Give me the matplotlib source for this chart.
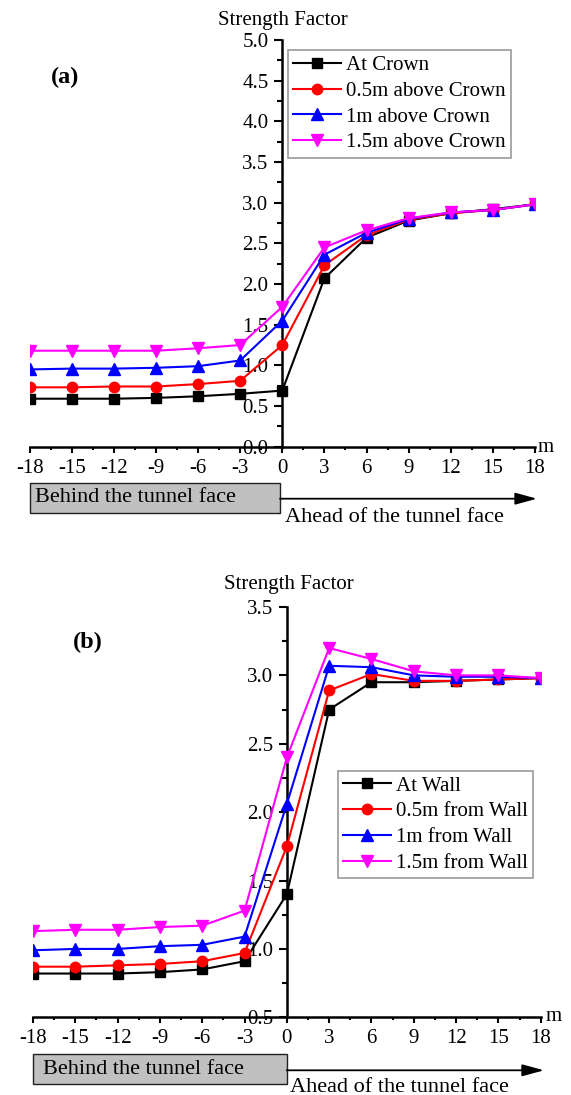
import matplotlib
matplotlib.use("Agg")
import matplotlib.pyplot as plt
from matplotlib.ticker import MultipleLocator
from matplotlib.patches import Rectangle, FancyArrowPatch

plt.rcParams['font.family'] = ['Liberation Serif', 'DejaVu Serif']

# ---------------- data ----------------
distance = [-18, -15, -12, -9, -6, -3, 0, 3, 6, 9, 12, 15, 18]
x_ticks = [-18, -15, -12, -9, -6, -3, 0, 3, 6, 9, 12, 15, 18]

crown_labels = ["At Crown", "0.5m above Crown", "1m above Crown", "1.5m above Crown"]
crown_at = [0.59, 0.59, 0.59, 0.60, 0.62, 0.65, 0.69, 2.07, 2.57, 2.78, 2.87, 2.92, 2.98]
crown_05 = [0.73, 0.73, 0.74, 0.74, 0.77, 0.81, 1.25, 2.23, 2.60, 2.79, 2.87, 2.91, 2.98]
crown_10 = [0.95, 0.96, 0.96, 0.97, 0.99, 1.06, 1.55, 2.36, 2.63, 2.80, 2.88, 2.91, 2.98]
crown_15 = [1.18, 1.18, 1.18, 1.18, 1.21, 1.25, 1.72, 2.45, 2.66, 2.81, 2.88, 2.91, 2.98]

wall_labels = ["At Wall", "0.5m from Wall", "1m from Wall", "1.5m from Wall"]
wall_at = [0.82, 0.82, 0.82, 0.83, 0.85, 0.91, 1.40, 2.75, 2.95, 2.95, 2.96, 2.97, 2.98]
wall_05 = [0.87, 0.87, 0.88, 0.89, 0.91, 0.97, 1.75, 2.89, 3.01, 2.96, 2.96, 2.97, 2.98]
wall_10 = [0.99, 1.00, 1.00, 1.02, 1.03, 1.09, 2.06, 3.07, 3.06, 3.00, 2.99, 2.99, 2.98]
wall_15 = [1.13, 1.14, 1.14, 1.16, 1.17, 1.28, 2.40, 3.20, 3.12, 3.03, 3.00, 3.00, 2.98]

colors = ["black", "#ff0000", "#0000ff", "#ff00ff"]
markers = ["s", "o", "^", "v"]
msizes = [6.5, 7.5, 8, 8]

W, H = 571, 1095
fig = plt.figure(figsize=(W / 100, H / 100), dpi=100)


def X(px):
    return px / W


def Y(py):
    return 1 - py / H


FS = 15


def make_panel(left, right, top, bottom, ylim, ymaj, series, labels, leg_loc):
    ax = fig.add_axes([X(left), Y(bottom), X(right) - X(left), Y(top) - Y(bottom)])
    ax.set_axisbelow(True)
    for vals, lab, c, m, ms in zip(series, labels, colors, markers, msizes):
        ax.plot(distance, vals, color=c, marker=m, markersize=ms, lw=1.5,
                label=lab, zorder=3)
    ax.set_xlim(-18, 18)
    ax.set_ylim(*ylim)
    ax.set_xticks(x_ticks)
    ax.set_xticklabels([str(t) for t in x_ticks])
    ax.xaxis.set_minor_locator(MultipleLocator(1.5))
    ax.yaxis.set_major_locator(MultipleLocator(ymaj))
    ax.yaxis.set_minor_locator(MultipleLocator(ymaj / 2))
    ax.yaxis.set_major_formatter(matplotlib.ticker.FormatStrFormatter('%.1f'))
    ax.spines['top'].set_visible(False)
    ax.spines['right'].set_visible(False)
    ax.spines['left'].set_position(('data', 0))
    for s in ('left', 'bottom'):
        ax.spines[s].set_linewidth(1.8)
    ax.tick_params(axis='both', which='major', labelsize=FS, width=1.5)
    ax.tick_params(axis='y', which='major', length=6, pad=4, direction='out')
    ax.tick_params(axis='y', which='minor', length=3.5, width=1.5, direction='out')
    ax.tick_params(axis='x', which='major', length=4.5, pad=4, direction='out')
    ax.tick_params(axis='x', which='minor', length=2.5, width=1.5, direction='out')
    ax.patch.set_alpha(0)
    leg = ax.legend(loc='upper left', bbox_to_anchor=leg_loc, fontsize=FS,
                    frameon=True, fancybox=False, edgecolor='#808080',
                    handlelength=2.3, handletextpad=0.25, labelspacing=0.3,
                    borderpad=0.25, borderaxespad=0)
    leg.get_frame().set_linewidth(1.2)
    return ax


ax1 = make_panel(29.6, 535, 40, 446.7, (0, 5.0), 0.5,
                 [crown_at, crown_05, crown_10, crown_15], crown_labels, (0.511, 0.975))
ax2 = make_panel(33, 540.7, 607, 1017.3, (0.5, 3.5), 0.5,
                 [wall_at, wall_05, wall_10, wall_15], wall_labels, (0.600, 0.601))

# titles / labels
fig.text(X(283), Y(25), "Strength Factor", fontsize=FS, ha='center', va='baseline')
fig.text(X(288.7), Y(589.3), "Strength Factor", fontsize=FS, ha='center', va='baseline')
fig.text(X(546), Y(451.7), "m", fontsize=FS, ha='center', va='baseline')
fig.text(X(554), Y(1020.7), "m", fontsize=FS, ha='center', va='baseline')
fig.text(X(65.3), Y(77.5), "(a)", fontsize=17.5, fontweight='bold', ha='center', va='center')
fig.text(X(87.7), Y(642.5), "(b)", fontsize=17.5, fontweight='bold', ha='center', va='center')


def face_annot(bx0, bx1, by0, by1, txt_x, arrow_end, ahead_x, ahead_base):
    rect = Rectangle((X(bx0), Y(by1)), X(bx1) - X(bx0), Y(by0) - Y(by1),
                     transform=fig.transFigure, facecolor='#c0c0c0',
                     edgecolor='#202020', linewidth=1.0)
    fig.add_artist(rect)
    ymid = (by0 + by1) / 2
    fig.text(X(txt_x), Y(ymid), "Behind the tunnel face", fontsize=16,
             ha='left', va='center')
    arr = FancyArrowPatch((X(bx1), Y(ymid + 1)), (X(arrow_end), Y(ymid + 1)),
                          transform=fig.transFigure,
                          arrowstyle='-|>,head_length=1.1,head_width=0.3',
                          mutation_scale=12, color='black', linewidth=1.3,
                          shrinkA=0, shrinkB=0)
    fig.add_artist(arr)
    fig.text(X(ahead_x), Y(ahead_base), "Ahead of the tunnel face", fontsize=16,
             ha='left', va='baseline')


face_annot(30, 280, 482.7, 512.7, 35, 537, 285, 522)
face_annot(33.3, 286.7, 1054.3, 1084.3, 43, 544, 290, 1092)

fig.savefig("out.png", dpi=100)
